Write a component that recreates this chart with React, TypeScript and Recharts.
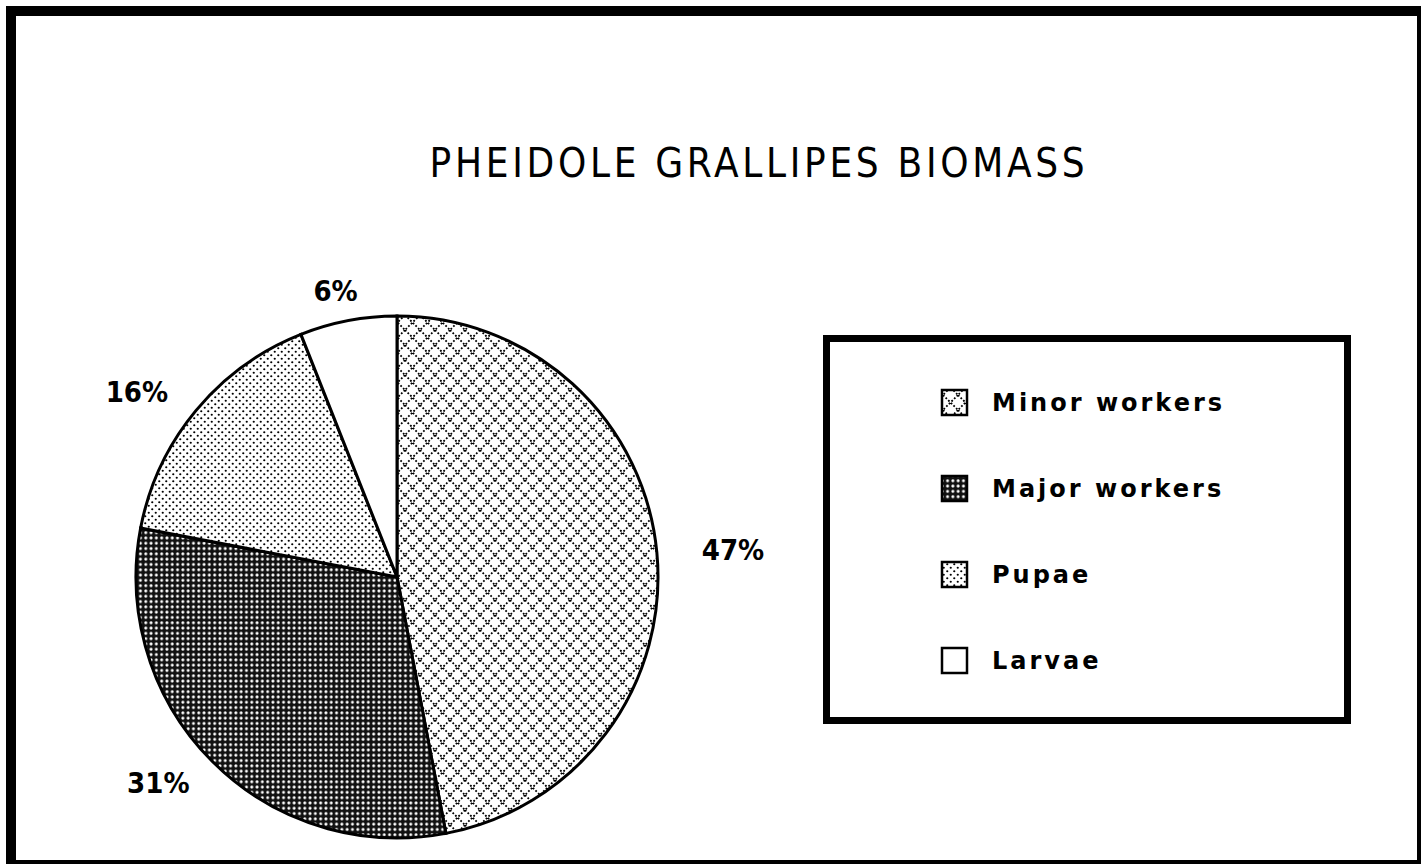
import React from 'react';
import { PieChart, Pie, Cell, Legend } from 'recharts';

const categories = ['Minor workers', 'Major workers', 'Pupae', 'Larvae'];
const values = [47, 31, 16, 6];
const patternIds = ['patMinor', 'patMajor', 'patPupae', 'patLarvae'];
const title = 'PHEIDOLE GRALLIPES BIOMASS';

const data = categories.map((name, i) => ({ name, value: values[i] }));

const RAD = Math.PI / 180;

const renderLabel = (p: any) => {
  const { cx, cy, midAngle, outerRadius, value } = p;
  const cos = Math.cos(-midAngle * RAD);
  const sin = Math.sin(-midAngle * RAD);
  const rx = outerRadius + 44;
  const ry = outerRadius + 30;
  const w = String(value).length * 19 + 27;
  const x = cx + rx * cos + (cos * w) / 2;
  const y = cy + ry * sin;
  return (
    <text
      x={x}
      y={y}
      textAnchor="middle"
      dominantBaseline="central"
      fontFamily="'DejaVu Sans Condensed', 'DejaVu Sans'"
      fontWeight="bold"
      fontSize={29}
      fill="#000"
    >
      {`${value}%`}
    </text>
  );
};

const Patterns = () => (
  <defs>
    <pattern id="patMinor" width="15" height="15" patternUnits="userSpaceOnUse">
      <rect width="15" height="15" fill="#fff" />
      <path d="M0,0 L15,15 M15,0 L0,15" stroke="#000" strokeWidth="1.8" strokeDasharray="1.8 1.9" />
    </pattern>
    <pattern id="patMajor" width="5.3" height="5.3" patternUnits="userSpaceOnUse">
      <rect width="5.3" height="5.3" fill="#111" />
      <circle cx="2.65" cy="2.65" r="1.5" fill="#fff" />
    </pattern>
    <pattern id="patPupae" width="7" height="7" patternUnits="userSpaceOnUse">
      <rect width="7" height="7" fill="#fff" />
      <circle cx="1.75" cy="1.75" r="1.1" fill="#000" />
      <circle cx="5.25" cy="5.25" r="1.1" fill="#000" />
    </pattern>
    <pattern id="patLarvae" width="8" height="8" patternUnits="userSpaceOnUse">
      <rect width="8" height="8" fill="#fff" />
    </pattern>
  </defs>
);

const LegendBox = () => (
  <svg width={528} height={389} style={{ display: 'block' }}>
    <rect x={3.5} y={3.5} width={521} height={382} fill="#fff" stroke="#000" strokeWidth={7} />
    {categories.map((name, i) => (
      <g key={name}>
        <rect
          x={119}
          y={68 + i * 86 - 13}
          width={25}
          height={25}
          fill={`url(#${patternIds[i]})`}
          stroke="#000"
          strokeWidth={2.5}
        />
        <text
          x={169}
          y={68 + i * 86}
          dominantBaseline="central"
          fontFamily="'DejaVu Sans'"
          fontWeight="bold"
          fontSize={24}
          letterSpacing={3}
          fill="#000"
        >
          {name}
        </text>
      </g>
    ))}
  </svg>
);

export default function App() {
  return (
    <div
      style={{
        position: 'absolute',
        left: 0,
        top: 0,
        width: 1421,
        height: 864,
        overflow: 'hidden',
        background: '#fff',
      }}
    >
      <div
        style={{
          position: 'absolute',
          left: 6,
          top: 6,
          width: 1421,
          height: 864,
          boxSizing: 'border-box',
          border: '10px solid #000',
        }}
      />
      <div
        style={{
          position: 'absolute',
          left: 359,
          top: 143,
          width: 800,
          textAlign: 'center',
          fontFamily: "'DejaVu Sans Condensed', 'DejaVu Sans'",
          fontSize: 40,
          lineHeight: '40px',
          letterSpacing: '3.7px',
          color: '#000',
        }}
      >
        {title}
      </div>
      <div style={{ position: 'absolute', left: 0, top: 0 }}>
        <PieChart width={1421} height={864} margin={{ top: 0, right: 0, bottom: 0, left: 0 }}>
          <Patterns />
          <Pie
            data={data}
            dataKey="value"
            nameKey="name"
            cx={397}
            cy={577}
            outerRadius={261}
            startAngle={90}
            endAngle={-270}
            stroke="#000"
            strokeWidth={3}
            label={renderLabel}
            labelLine={false}
            isAnimationActive={false}
          >
            {data.map((d, i) => (
              <Cell key={d.name} fill={`url(#${patternIds[i]})`} />
            ))}
          </Pie>
          <Legend
            layout="vertical"
            align="right"
            verticalAlign="top"
            content={() => <LegendBox />}
            wrapperStyle={{ position: 'absolute', left: 823, top: 335, width: 528, height: 389 }}
          />
        </PieChart>
      </div>
    </div>
  );
}
